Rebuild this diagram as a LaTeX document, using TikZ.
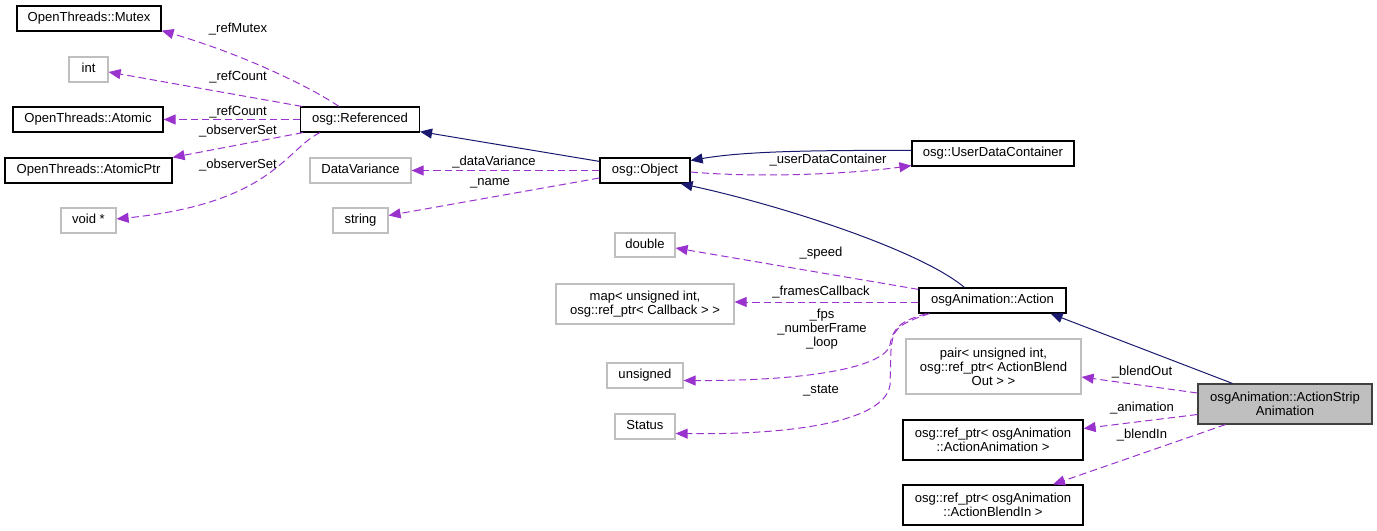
\documentclass[tikz,border=0pt]{standalone}
\usepackage{fontspec}
\setmainfont{Liberation Sans}
\usetikzlibrary{arrows.meta,calc}
\definecolor{mem}{HTML}{9A32CD}
\definecolor{inh}{HTML}{191970}
\definecolor{gbox}{HTML}{BFBFBF}
\begin{document}
\begin{tikzpicture}[x=0.75pt,y=-0.75pt,
  font=\fontsize{9.8}{10.5}\selectfont,
  sz/.style 2 args={minimum width=#1*0.75pt, minimum height=#2*0.75pt},
  one/.style={text height=0.72em, text depth=0.22em},
  cls/.style={draw=black, line width=0.9pt, fill=white, inner sep=0pt, align=center},
  ext/.style={draw=gbox, line width=0.9pt, fill=white, inner sep=0pt, align=center},
  cur/.style={draw=black!75, line width=0.9pt, fill=gbox, inner sep=0pt, align=center},
  use/.style={draw=mem, line width=0.75pt, dash pattern=on 5.5pt off 3pt, -{Triangle[length=9pt,width=7.5pt]}},
  isa/.style={draw=inh, line width=0.75pt, -{Triangle[length=9pt,width=7.5pt]}},
  lbl/.style={inner sep=0pt, align=center}]
\useasboundingbox (0,0) rectangle (1377,531);

% nodes
\node[cls, one, sz={144}{25}] (mutex) at (89,18.5) {OpenThreads::Mutex};
\node[ext, one, sz={39}{25}] (int) at (88.5,69.5) {int};
\node[cls, one, sz={150}{25}] (atomic) at (88,119.5) {OpenThreads::Atomic};
\node[cls, one, sz={167}{25}] (aptr) at (88.5,170.5) {OpenThreads::AtomicPtr};
\node[ext, one, sz={55}{25}] (void) at (88.5,220.5) {void *};
\node[cls, one, sz={119}{25}] (ref) at (360,119.5) {osg::Referenced};
\node[ext, one, sz={101}{25}] (dv) at (360.5,170.5) {DataVariance};
\node[ext, one, sz={55}{25}] (str) at (360.5,220.5) {string};
\node[cls, one, sz={90}{25}] (obj) at (645,170.5) {osg::Object};
\node[cls, one, sz={162}{25}] (udc) at (993,153.5) {osg::UserDataContainer};
\node[ext, one, sz={60}{24}] (dbl) at (645,245) {double};
\node[ext, sz={178}{40}] (map) at (645,304) {map< unsigned int,\\ osg::ref\_ptr< Callback > >};
\node[ext, one, sz={76}{25}] (uns) at (645,375.5) {unsigned};
\node[ext, one, sz={60}{25}] (status) at (645,426.5) {Status};
\node[cls, one, sz={147}{25}] (act) at (992.5,300.5) {osgAnimation::Action};
\node[ext, sz={175}{55}] (pair) at (993.5,366.5) {pair< unsigned int,\\ osg::ref\_ptr< ActionBlend\\Out > >};
\node[cur, sz={174}{40}] (asa) at (1285,404) {osgAnimation::ActionStrip\\Animation};
\node[cls, sz={180}{40}] (aa) at (993,440) {osg::ref\_ptr< osgAnimation\\::ActionAnimation >};
\node[cls, sz={180}{40}] (abi) at (993,505) {osg::ref\_ptr< osgAnimation\\::ActionBlendIn >};

% inheritance
\draw[isa] ($(obj.north west)+(0,4)$) -- ($(ref.south east)+(0,-1)$);
\draw[isa] ($(udc.west)+(0,-3)$) .. controls (800,150) and (740,152) .. ($(obj.east)+(0,-10)$);
\draw[isa] ($(act.north west)+(46,0)$) .. controls (920,250) and (780,205) .. ($(obj.south east)+(-10,0)$);
\draw[isa] ($(asa.north west)+(35,0)$) -- ($(act.south east)+(-16,0)$);

% members of Referenced
\draw[use] ($(ref.north west)+(39,0)$) .. controls (312,88) and (245,55) .. ($(mutex.south east)+(0,-1)$);
\draw[use] ($(ref.north west)+(2,0)$) -- ($(int.east)+(0,2.5)$);
\draw[use] (ref.west) -- (atomic.east);
\draw[use] ($(ref.south west)+(3,0)$) -- ($(aptr.north east)+(0,0)$);
\draw[use] ($(ref.south west)+(20,0)$) .. controls (285,150) and (272,203) .. ($(void.east)+(0,-1.5)$);
\node[lbl] (l1) at (238,29) {\_refMutex};
\node[lbl] (l2) at (238,77) {\_refCount};
\node[lbl] (l3) at (238,112) {\_refCount};
\node[lbl] (l4) at (238,131) {\_observerSet};
\node[lbl] (l5) at (238,165) {\_observerSet};

% members of Object
\draw[use] (obj.west) -- (dv.east);
\draw[use] ($(obj.west)+(0,7.5)$) -- ($(str.east)+(0,-5)$);
\draw[use] ($(obj.east)+(0,1.5)$) .. controls (760,178) and (850,174) .. ($(udc.south west)+(0,-1)$);
\node[lbl] (l6) at (494,162) {\_dataVariance};
\node[lbl] (l7) at (490,183) {\_name};
\node[lbl] (l8) at (828,160) {\_userDataContainer};

% members of Action
\draw[use] ($(act.north west)+(0,2)$) -- ($(dbl.east)+(0,3)$);
\draw[use] ($(act.west)+(0,1.5)$) -- ($(map.east)+(0,-2)$);
\draw[use] ($(act.south west)+(8,0)$) .. controls (905,320) and (893,325) .. (890,345) .. controls (885,365) and (820,381) .. ($(uns.east)+(0,5)$);
\draw[use] ($(act.south west)+(11,0)$) .. controls (895,325) and (893,330) .. (891,350) -- (890,385) .. controls (885,420) and (800,435) .. ($(status.east)+(0,7)$);
\node[lbl] (l9) at (821,253) {\_speed};
\node[lbl] (l10) at (821,292) {\_framesCallback};
\node[lbl] (l11) at (822,329) {\_fps\\\_numberFrame\\\_loop};
\node[lbl] (l12) at (821,391) {\_state};

% members of ActionStripAnimation
\draw[use] ($(asa.west)+(0,-11)$) -- ($(pair.east)+(0,10.5)$);
\draw[use] ($(asa.west)+(0,10.5)$) -- ($(aa.east)+(0,-11.5)$);
\draw[use] ($(asa.south west)+(28,0)$) -- ($(abi.north)+(60,0)$);
\node[lbl] (l13) at (1142,372) {\_blendOut};
\node[lbl] (l14) at (1142,408) {\_animation};
\node[lbl] (l15) at (1142,435) {\_blendIn};
\end{tikzpicture}
\end{document}
